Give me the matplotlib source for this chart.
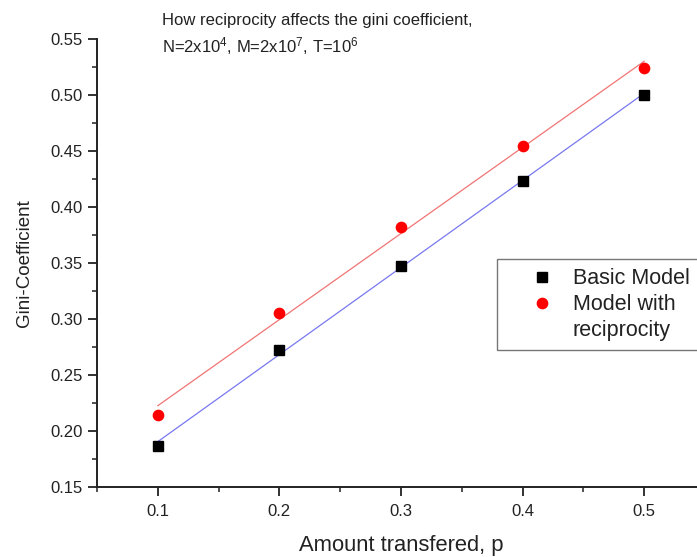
import numpy as np
import matplotlib
matplotlib.use("Agg")
import matplotlib.pyplot as plt
from matplotlib.ticker import MultipleLocator
from matplotlib.lines import Line2D

plt.rcParams['font.family'] = ['Liberation Sans', 'DejaVu Sans']
plt.rcParams['mathtext.fontset'] = 'custom'
plt.rcParams['mathtext.rm'] = 'Liberation Sans'
plt.rcParams['mathtext.it'] = 'Liberation Sans'

# Amount transferred per exchange
p_values = [0.1, 0.2, 0.3, 0.4, 0.5]
# Gini coefficient of the final wealth distribution
gini_basic = [0.1866, 0.2727, 0.3473, 0.4235, 0.5000]
gini_reciprocity = [0.2146, 0.3058, 0.3820, 0.4549, 0.5245]

series_labels = ["Basic Model", "Model with", "reciprocity"]
title_lines = ["How reciprocity affects the gini coefficient,",
               r"N=2x10$^4$, M=2x10$^7$, T=10$^6$"]

TXT = '#222222'
W, H = 697, 557
fig = plt.figure(figsize=(W / 100, H / 100), dpi=100)
# axes run slightly past the right edge of the canvas
ax = fig.add_axes([97 / W, 1 - 487 / H, (705 - 97) / W, (487 - 39) / H])

x = np.array(p_values)
for y, lcolor in [(gini_basic, '#7878f0'), (gini_reciprocity, '#f07474')]:
    slope, intercept = np.polyfit(x, y, 1)
    xs = np.array([x.min(), x.max()])
    ax.plot(xs, slope * xs + intercept, color=lcolor, lw=0.9, zorder=2)

h1, = ax.plot(p_values, gini_basic, 's', color='black', ms=6.6, ls='none', zorder=3)
h2, = ax.plot(p_values, gini_reciprocity, 'o', color='red', ms=7.4, ls='none', zorder=3)
h3 = Line2D([], [], ls='none', marker='none')

ax.set_xlim(0.05, 0.55)
ax.set_ylim(0.15, 0.55)
ax.xaxis.set_major_locator(MultipleLocator(0.1))
ax.xaxis.set_minor_locator(MultipleLocator(0.05))
ax.yaxis.set_major_locator(MultipleLocator(0.05))
ax.yaxis.set_minor_locator(MultipleLocator(0.025))
ax.set_xticks([0.1, 0.2, 0.3, 0.4, 0.5])
ax.set_xticklabels(["0.1", "0.2", "0.3", "0.4", "0.5"])
ax.yaxis.set_major_formatter(plt.FuncFormatter(lambda v, _: f"{v:.2f}"))

for side in ['top', 'right']:
    ax.spines[side].set_visible(False)
for side in ['left', 'bottom']:
    ax.spines[side].set_linewidth(1.4)
    ax.spines[side].set_color(TXT)

ax.tick_params(which='major', direction='out', length=6.5, width=1.3,
               labelsize=12, colors=TXT, pad=4)
ax.tick_params(which='minor', direction='out', length=3.5, width=1.1,
               colors=TXT)
ax.tick_params(axis='x', pad=6)

ax.set_xlabel("Amount transfered, p", fontsize=15.8, color=TXT, labelpad=11)
ax.set_ylabel("Gini-Coefficient", fontsize=13.5, color=TXT, labelpad=12)

leg = fig.legend([h1, h2, h3], series_labels, loc='upper left',
                 bbox_to_anchor=(497 / W, 1 - 259 / H), fontsize=15.5,
                 frameon=True, fancybox=False, borderpad=0.42,
                 handletextpad=-0.2, handlelength=3.3, borderaxespad=0,
                 labelspacing=0.24)
leg.get_frame().set_edgecolor('#555555')
leg.get_frame().set_linewidth(1.0)
for t in leg.get_texts():
    t.set_color(TXT)

fig.text(162 / W, 1 - 20 / H, title_lines[0], fontsize=12, color=TXT,
         va='center', ha='left')
fig.text(162 / W, 1 - 46 / H, title_lines[1], fontsize=12, color=TXT,
         va='center', ha='left')

fig.savefig("out.png", dpi=100)
